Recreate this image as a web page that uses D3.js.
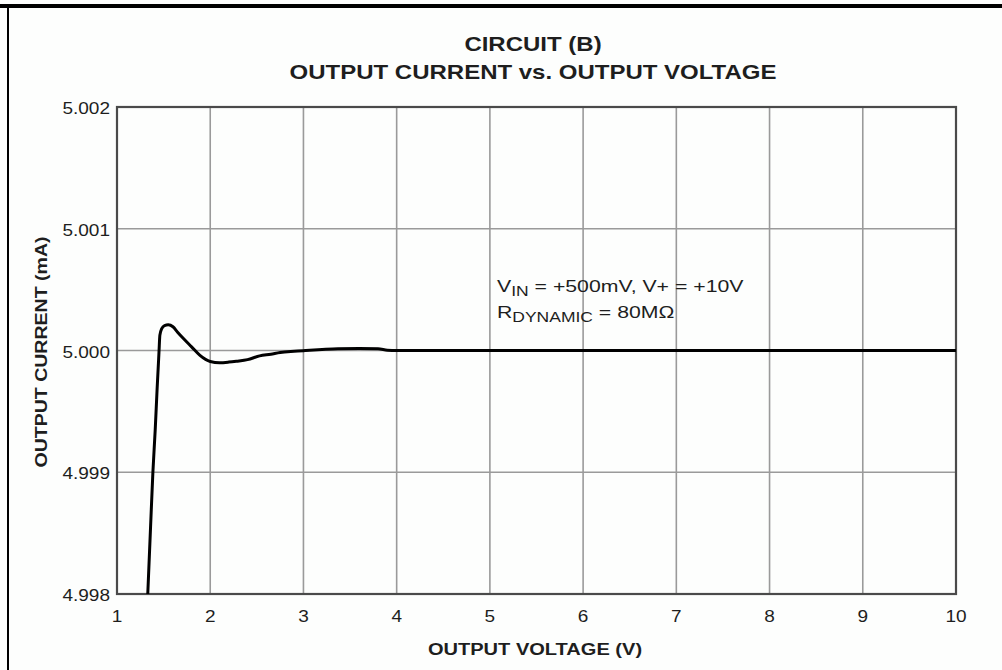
<!DOCTYPE html>
<html>
<head>
<style>
  body { margin: 0; background: #fdfefd; }
  text { font-family: "Liberation Sans", Arial, sans-serif; fill: #1e1e1e; }
</style>
</head>
<body>
<script src="https://d3js.org/d3.v7.min.js"></script>
<script>

const width = 1002;
const height = 670;

// data
const voltage = [1.33, 1.36, 1.385, 1.41, 1.43, 1.45, 1.46, 1.48, 1.51, 1.55, 1.60, 1.65, 1.71, 1.80, 1.89, 2.00, 2.10, 2.20, 2.28, 2.40, 2.53, 2.65, 2.75, 2.90, 3.02, 3.20, 3.37, 3.60, 3.80, 3.90, 4.0, 5.0, 6.0, 7.0, 8.0, 9.0, 10.0];
const current = [4.9980, 4.99855, 4.9990, 4.99935, 4.99968, 4.99998, 5.000126, 5.00018, 5.000205, 5.000211, 5.000195, 5.00015, 5.0001, 5.00003, 4.99996, 4.99991, 4.99990, 4.999905, 4.999912, 4.999925, 4.999956, 4.99997, 4.999984, 4.999994, 5.0, 5.000008, 5.000014, 5.000016, 5.000014, 5.000003, 5.0, 5.0, 5.0, 5.0, 5.0, 5.0, 5.0];

const xTicks = [1, 2, 3, 4, 5, 6, 7, 8, 9, 10];
const yTicks = [4.998, 4.999, 5.000, 5.001, 5.002];

const titleLines = ['CIRCUIT (B)', 'OUTPUT CURRENT vs. OUTPUT VOLTAGE'];

const plot = { left: 117, right: 956, top: 107, bottom: 594 };

// the lettering in the original is drawn wide, so stretch it sideways
const wide = (px, py, sx, rot) =>
  `translate(${px},${py})` + (rot ? ` rotate(${rot})` : '') + ` scale(${sx},1)`;

const svg = d3.select('body')
              .append('svg')
              .attr('width', width)
              .attr('height', height);

// outer frame: thick top rule and thin left rule
svg.append('line')
   .attr('x1', 0).attr('x2', width)
   .attr('y1', 6).attr('y2', 6)
   .attr('stroke', '#000')
   .attr('stroke-width', 4);

svg.append('line')
   .attr('x1', 8).attr('x2', 8)
   .attr('y1', 6).attr('y2', height)
   .attr('stroke', '#000')
   .attr('stroke-width', 2);

const x = d3.scaleLinear().domain([1, 10]).range([plot.left, plot.right]);
const y = d3.scaleLinear().domain([4.998, 5.002]).range([plot.bottom, plot.top]);

// grid
svg.append('g')
   .selectAll('line')
   .data(xTicks)
   .enter()
   .append('line')
   .attr('x1', d => x(d)).attr('x2', d => x(d))
   .attr('y1', plot.top).attr('y2', plot.bottom)
   .attr('stroke', '#9a9a9a')
   .attr('stroke-width', 1.6);

svg.append('g')
   .selectAll('line')
   .data(yTicks)
   .enter()
   .append('line')
   .attr('x1', plot.left).attr('x2', plot.right)
   .attr('y1', d => y(d)).attr('y2', d => y(d))
   .attr('stroke', '#9a9a9a')
   .attr('stroke-width', 1.6);

// plot frame
svg.append('rect')
   .attr('x', plot.left).attr('y', plot.top)
   .attr('width', plot.right - plot.left)
   .attr('height', plot.bottom - plot.top)
   .attr('fill', 'none')
   .attr('stroke', '#4a4a4a')
   .attr('stroke-width', 2.2);

// tick labels
svg.append('g')
   .selectAll('text')
   .data(xTicks)
   .enter()
   .append('text')
   .attr('transform', d => wide(x(d), plot.bottom + 28, 1.12))
   .attr('text-anchor', 'middle')
   .attr('font-size', 17)
   .text(d => d);

svg.append('g')
   .selectAll('text')
   .data(yTicks)
   .enter()
   .append('text')
   .attr('transform', d => wide(plot.left - 7, y(d) + 7, 1.12))
   .attr('text-anchor', 'end')
   .attr('font-size', 17)
   .text(d => d3.format('.3f')(d));

// curve
svg.append('clipPath')
   .attr('id', 'clip')
   .append('rect')
   .attr('x', plot.left).attr('y', plot.top)
   .attr('width', plot.right - plot.left)
   .attr('height', plot.bottom - plot.top);

const line = d3.line()
               .x((d, i) => x(voltage[i]))
               .y(d => y(d))
               .curve(d3.curveMonotoneX);

svg.append('path')
   .datum(current)
   .attr('d', line)
   .attr('clip-path', 'url(#clip)')
   .attr('fill', 'none')
   .attr('stroke', '#000')
   .attr('stroke-width', 3)
   .attr('stroke-linejoin', 'round');

// titles
svg.append('g')
   .selectAll('text')
   .data(titleLines)
   .enter()
   .append('text')
   .attr('transform', (d, i) => wide(533, 51 + i * 28, 1.2))
   .attr('text-anchor', 'middle')
   .attr('font-size', 20)
   .attr('font-weight', 'bold')
   .text(d => d);

svg.append('text')
   .attr('transform', wide(535, 655, 1.18))
   .attr('text-anchor', 'middle')
   .attr('font-size', 17)
   .attr('font-weight', 'bold')
   .text('OUTPUT VOLTAGE (V)');

svg.append('text')
   .attr('transform', wide(47, 352, 1.15, -90))
   .attr('text-anchor', 'middle')
   .attr('font-size', 17)
   .attr('font-weight', 'bold')
   .text('OUTPUT CURRENT (mA)');

// conditions note
const l1 = svg.append('text')
              .attr('transform', wide(497, 292, 1.25))
              .attr('font-size', 17);
l1.append('tspan').text('V');
l1.append('tspan').attr('font-size', 14).attr('dy', 4).text('IN');
l1.append('tspan').attr('dy', -4).text(' = +500mV, V+ = +10V');

const l2 = svg.append('text')
              .attr('transform', wide(497, 318, 1.25))
              .attr('font-size', 17);
l2.append('tspan').text('R');
l2.append('tspan').attr('font-size', 14).attr('dy', 4).text('DYNAMIC');
l2.append('tspan').attr('dy', -4).text(' = 80MΩ');

</script>
</body>
</html>
